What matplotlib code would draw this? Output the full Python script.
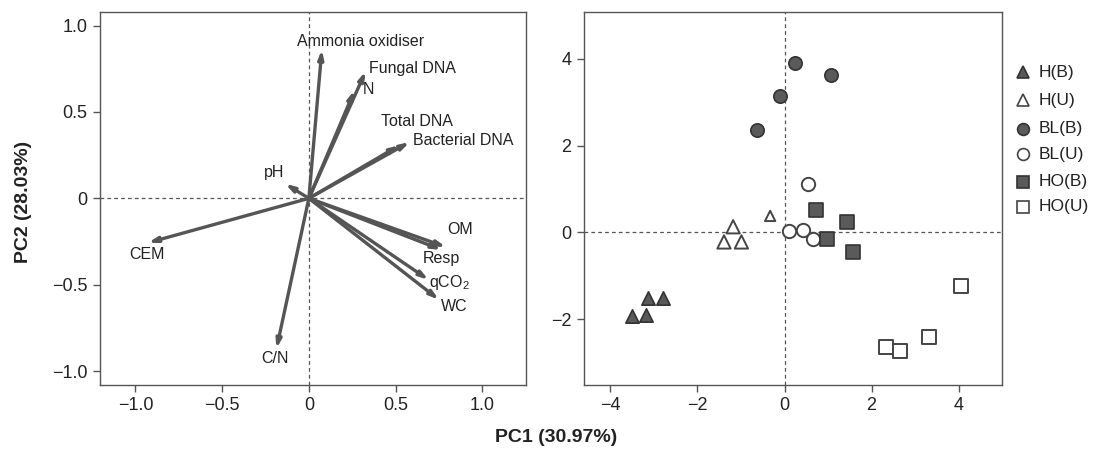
import matplotlib
matplotlib.use('Agg')
import matplotlib.pyplot as plt
from matplotlib.lines import Line2D

plt.rcParams['font.family'] = ['Liberation Sans', 'DejaVu Sans']
plt.rcParams['mathtext.default'] = 'regular'
plt.rcParams['axes.unicode_minus'] = True

# ---------------- data ----------------
variables = ['Ammonia oxidiser', 'Fungal DNA', 'N', 'Total DNA', 'Bacterial DNA',
             'pH', 'CEM', 'C/N', 'OM', 'Resp', 'qCO$_2$', 'WC']
load_pc1 = [0.075, 0.328, 0.264, 0.522, 0.582, -0.137, -0.928, -0.187, 0.791, 0.765, 0.691, 0.751]
load_pc2 = [0.862, 0.736, 0.626, 0.307, 0.326, 0.085, -0.257, -0.871, -0.282, -0.298, -0.472, -0.587]

groups = ['H(B)', 'H(U)', 'BL(B)', 'BL(U)', 'HO(B)', 'HO(U)']
hb_pc1 = [-3.50, -3.19, -3.13, -2.79]
hb_pc2 = [-1.93, -1.91, -1.51, -1.51]
hu_pc1 = [-1.39, -1.18, -0.99, -0.33]
hu_pc2 = [-0.22, 0.13, -0.22, 0.38]
blb_pc1 = [-0.63, -0.10, 0.24, 1.06]
blb_pc2 = [2.35, 3.15, 3.90, 3.64]
blu_pc1 = [0.11, 0.43, 0.66, 0.53]
blu_pc2 = [0.03, 0.05, -0.16, 1.11]
hob_pc1 = [0.72, 1.44, 0.97, 1.58]
hob_pc2 = [0.51, 0.25, -0.16, -0.45]
hou_pc1 = [2.33, 2.66, 3.31, 4.06]
hou_pc2 = [-2.64, -2.73, -2.41, -1.23]

x_label = 'PC1 (30.97%)'
y_label = 'PC2 (28.03%)'

# label placement (layout)
label_pos = [(0.30, 0.906), (0.596, 0.752), (0.344, 0.630), (0.622, 0.442), (0.890, 0.332),
             (-0.199, 0.147), (-0.934, -0.325), (-0.193, -0.926), (0.870, -0.178),
             (0.765, -0.346), (0.812, -0.487), (0.840, -0.624)]

# ---------------- style ----------------
W, H = 1094, 450
fig = plt.figure(figsize=(W / 100, H / 100), dpi=100)
GREY = '#555555'
FILL = '#5a5a5a'
EDGE = '#333333'
BASE_S = 92
hu_sizes = [BASE_S, BASE_S, BASE_S, 55]   # one H(U) symbol is drawn smaller in the original


def fx(px):
    return px / W


def fy(py):
    return 1 - py / H


ax1 = fig.add_axes([fx(99.9), fy(385), fx(525.8 - 99.9), (385 - 11.7) / H])
ax2 = fig.add_axes([fx(583.8), fy(385), fx(1002.2 - 583.8), (385 - 11.7) / H])

for ax in (ax1, ax2):
    for s in ax.spines.values():
        s.set_color(GREY)
        s.set_linewidth(1.0)
    ax.tick_params(direction='out', length=5, width=1.0, color=GREY,
                   labelsize=13, labelcolor='#222222', pad=4)
    ax.axhline(0, ls=(0, (3, 2.5)), color=GREY, lw=0.9, zorder=1)
    ax.axvline(0, ls=(0, (3, 2.5)), color=GREY, lw=0.9, zorder=1)

# ---- left: loadings ----
ax1.set_xlim(-1.205, 1.251)
ax1.set_ylim(-1.08, 1.08)
ax1.set_xticks([-1.0, -0.5, 0, 0.5, 1.0])
ax1.set_xticklabels(['\u22121.0', '\u22120.5', '0', '0.5', '1.0'])
ax1.set_yticks([-1.0, -0.5, 0, 0.5, 1.0])
ax1.set_yticklabels(['\u22121.0', '\u22120.5', '0', '0.5', '1.0'])

for name, x, y, (lx, ly) in zip(variables, load_pc1, load_pc2, label_pos):
    ax1.annotate('', xy=(x, y), xytext=(0, 0),
                 arrowprops=dict(arrowstyle='-|>,head_length=0.5,head_width=0.15',
                                 color=GREY, lw=2.4, shrinkA=0, shrinkB=0),
                 zorder=3)
    ax1.text(lx, ly, name, ha='center', va='center', fontsize=11.5, color='#222222')

# ---- right: scores ----
ax2.set_xlim(-4.61, 5.0)
ax2.set_ylim(-3.52, 5.09)
ax2.set_xticks([-4, -2, 0, 2, 4])
ax2.set_xticklabels(['\u22124', '\u22122', '0', '2', '4'])
ax2.set_yticks([-2, 0, 2, 4])
ax2.set_yticklabels(['\u22122', '0', '2', '4'])

series = [(hb_pc1, hb_pc2, '^', True, BASE_S), (hu_pc1, hu_pc2, '^', False, hu_sizes),
          (blb_pc1, blb_pc2, 'o', True, BASE_S), (blu_pc1, blu_pc2, 'o', False, BASE_S),
          (hob_pc1, hob_pc2, 's', True, BASE_S), (hou_pc1, hou_pc2, 's', False, BASE_S)]
for xs, ys, m, filled, sz in series:
    if filled:
        ax2.scatter(xs, ys, marker=m, s=sz, facecolor=FILL, edgecolor=EDGE,
                    linewidths=1.2, zorder=4)
    else:
        ax2.scatter(xs, ys, marker=m, s=sz, facecolor='white', edgecolor='#444444',
                    linewidths=1.4, zorder=4)

# ---- legend (manual, in figure px) ----
leg_y = [72.3, 100, 129, 154, 181.7, 206.7]
for (xs, ys, m, filled, sz), g, py in zip(series, groups, leg_y):
    fig.add_artist(Line2D([fx(1023)], [fy(py)], transform=fig.transFigure, marker=m,
                          markersize=8.5, markerfacecolor=FILL if filled else 'white',
                          markeredgecolor=EDGE if filled else '#444444',
                          markeredgewidth=1.2, linestyle='none'))
    fig.text(fx(1039), fy(py), g, ha='left', va='center', fontsize=12.5, color='#222222')

fig.text(fx(556), fy(437), x_label, ha='center', va='center', fontsize=14,
         fontweight='bold', color='#222222')
fig.text(fx(24), fy(201.7), y_label, ha='center', va='center', rotation=90,
         fontsize=14, fontweight='bold', color='#222222')

fig.savefig('out.png', dpi=100)
